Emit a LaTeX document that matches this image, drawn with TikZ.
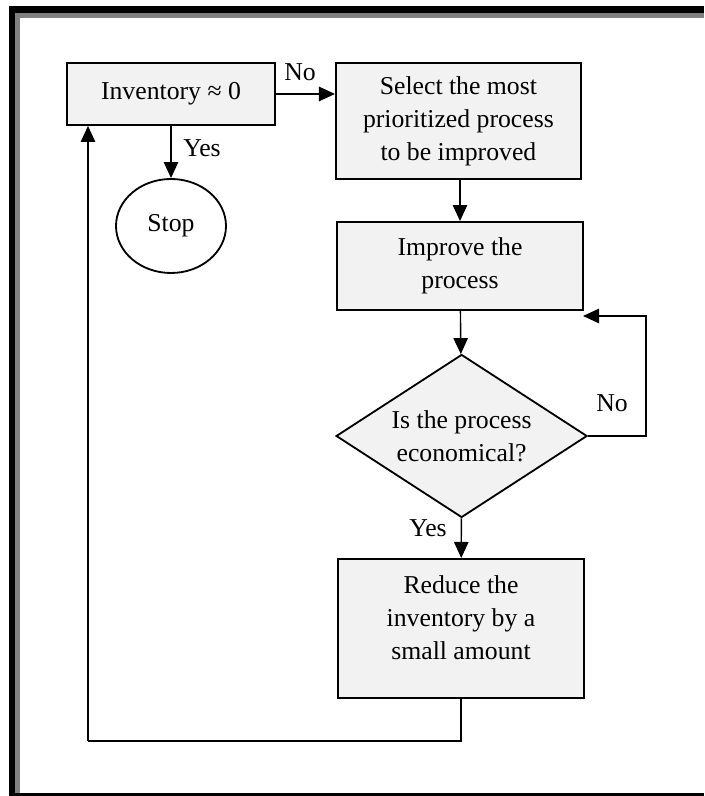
\documentclass[tikz,border=0pt]{standalone}
\usepackage{fontspec}
\setmainfont{Liberation Serif}
\usepackage{tikz}
\usetikzlibrary{shapes.geometric,arrows.meta}

\tikzset{
	flowbox/.style={draw,line width=1.3pt,fill=boxgray,align=center,inner sep=0pt,
		font=\fontsize{18.3}{23.5}\selectfont},
	flowlabel/.style={font=\fontsize{18.3}{23.5}\selectfont},
	flowarrow/.style={line width=1pt,-{Triangle[length=0.4cm,width=0.36cm]}},
	flowline/.style={line width=1pt}
}
\definecolor{boxgray}{HTML}{F2F2F2}
\definecolor{framegray}{HTML}{808080}

\begin{document}
\begin{tikzpicture}
		\useasboundingbox (0,0) rectangle (17.6,19.9);
		% page frame
		\fill[black](0.225,0) rectangle (17.6,19.7425);
		\fill[framegray](0.375,0.08) rectangle (17.6,19.5825);
		\fill[white](0.5,0.08) rectangle (17.6,19.45);
		% boxes
		\node[flowbox,minimum width=5.2cm,minimum height=1.55cm] (inv) at (4.275,17.55) {Inventory ≈ 0};
		\node[flowbox,ellipse,fill=white,minimum width=2.75cm,minimum height=2.35cm] (stop) at (4.275,14.25) {Stop};
		\node[flowbox,minimum width=6.125cm,minimum height=2.9cm] (sel) at (11.46,16.875) {Select the most\\prioritized process\\to be improved};
		\node[flowbox,minimum width=6.15cm,minimum height=2.2cm] (imp) at (11.5,13.25) {Improve the\\process};
		\node[flowbox,diamond,aspect=1.54,minimum width=6.275cm,minimum height=4.075cm] (dec) at (11.54,9.0) {Is the process\\economical?};
		\node[flowbox,minimum width=6.15cm,minimum height=3.475cm] (red) at (11.525,4.19) {Reduce the\\inventory by a\\small amount\\[-8pt]};
		\coordinate (back) at (14.575,12.0);
		\coordinate (low) at (2.2,1.375);
		% connectors
		\draw[flowarrow](inv.east) -- (inv.east -| sel.west);
		\draw[flowarrow](inv) -- (stop);
		\draw[flowarrow](sel.south -| imp) -- (imp);
		\draw[flowarrow](imp) -- (dec);
		\draw[flowarrow](dec) -- (red);
		\draw[flowarrow](dec.east) -- ++(1.45,0) |- (back);
		\draw[flowline](red.south) |- (low);
		\draw[flowarrow](low) -- (low |- inv.south);
		% labels
		\node[flowlabel] (noinv) at (7.5,18.1) {No};
		\node[flowlabel] (yesinv) at (5.05,16.2) {Yes};
		\node[flowlabel] (nodec) at (15.3,9.825) {No};
		\node[flowlabel] (yesdec) at (10.7,6.7) {Yes};
		\end{tikzpicture}
\end{document}
